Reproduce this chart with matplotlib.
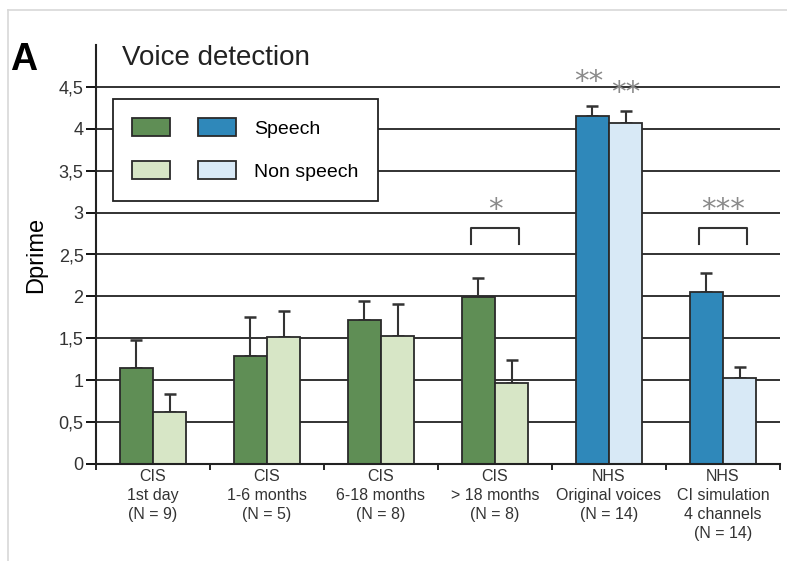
import numpy as np
import matplotlib.pyplot as plt
from matplotlib.patches import Patch

plt.rcParams['font.family'] = ['Liberation Sans', 'DejaVu Sans']

groups = ['CIS\n1st day\n(N = 9)', 'CIS\n1-6 months\n(N = 5)', 'CIS\n6-18 months\n(N = 8)',
          'CIS\n> 18 months\n(N = 8)', 'NHS\nOriginal voices\n(N = 14)',
          'NHS\nCI simulation\n4 channels\n(N = 14)']
speech = [1.14, 1.29, 1.72, 1.99, 4.15, 2.05]
speech_err = [0.34, 0.46, 0.22, 0.23, 0.12, 0.23]
nonspeech = [0.62, 1.52, 1.53, 0.97, 4.07, 1.03]
nonspeech_err = [0.22, 0.30, 0.38, 0.27, 0.14, 0.13]
is_nhs = [False, False, False, False, True, True]

# significance marks: (group, label, y, bracket)
sig = [(3, '*', 2.86, True), (5, '***', 2.86, True)]
sig_nhs = [('**', 4.39, -1), ('**', 4.26, 1)]

c_dark_green = '#5f8e55'
c_light_green = '#d7e6c6'
c_blue = '#2f88ba'
c_light_blue = '#d8e9f6'
edge = '#2a2a2a'

fig = plt.figure(figsize=(7.87, 5.61), dpi=100)
ax = fig.add_axes([96/787, 97/561, 684/787, 419/561])

x = np.arange(len(groups))
w = 0.29
col1 = [c_blue if n else c_dark_green for n in is_nhs]
col2 = [c_light_blue if n else c_light_green for n in is_nhs]

for yv in np.arange(0.5, 4.51, 0.5):
    ax.axhline(yv, color='#222222', lw=1.3, zorder=0)

ax.bar(x - w/2, speech, w, color=col1, edgecolor=edge, lw=1.3, zorder=2)
ax.bar(x + w/2, nonspeech, w, color=col2, edgecolor=edge, lw=1.3, zorder=2)
ax.errorbar(x - w/2, speech, yerr=[np.zeros(6), speech_err], fmt='none',
            ecolor='#333333', elinewidth=1.5, capsize=4.5, capthick=1.8, zorder=1)
ax.errorbar(x + w/2, nonspeech, yerr=[np.zeros(6), nonspeech_err], fmt='none',
            ecolor='#333333', elinewidth=1.5, capsize=4.5, capthick=1.8, zorder=1)

for g, lab, yv, br in sig:
    if br:
        ax.plot([g - w*0.72, g - w*0.72, g + w*0.72, g + w*0.72],
                [2.62, 2.82, 2.82, 2.62], color='#333333', lw=1.5)
    ax.text(g, yv, lab, ha='center', va='bottom', fontsize=21, color='#8a8a8a',
            family='DejaVu Sans')
for lab, yv, side in sig_nhs:
    ax.text(4 + side*w/2 - (0.03 if side < 0 else 0), yv, lab, ha='center', va='bottom',
            fontsize=21, color='#8a8a8a', family='DejaVu Sans')

ax.set_xlim(-0.5, 5.5)
ax.set_ylim(0, 5.0)
ax.set_yticks(np.arange(0, 4.51, 0.5))
ax.set_yticklabels(['0', '0,5', '1', '1,5', '2', '2,5', '3', '3,5', '4', '4,5'],
                   fontsize=13, color='#333333')
ax.set_xticks(x)
ax.set_xticklabels(groups, fontsize=11.5, color='#333333', va='top', linespacing=1.33)
ax.tick_params(axis='x', length=0, pad=3.5)
ax.set_xticks(np.arange(-0.5, 5.6, 1.0), minor=True)
ax.tick_params(axis='x', which='minor', length=4, width=1.2, direction='out')
ax.tick_params(axis='y', length=7, width=1.3, direction='out', pad=2)
for s in ['top', 'right']:
    ax.spines[s].set_visible(False)
for s in ['left', 'bottom']:
    ax.spines[s].set_linewidth(1.5)
    ax.spines[s].set_color('#222222')

ax.set_ylabel('Dprime', fontsize=17, labelpad=8)

handles = [Patch(facecolor=c_dark_green, edgecolor=edge, lw=1.3),
           Patch(facecolor=c_light_green, edgecolor=edge, lw=1.3),
           Patch(facecolor=c_blue, edgecolor=edge, lw=1.3),
           Patch(facecolor=c_light_blue, edgecolor=edge, lw=1.3)]
leg = ax.legend(handles, ['', '', 'Speech', 'Non speech'], ncol=2, loc='upper left',
                bbox_to_anchor=(17/684, 1 - 54/419), fontsize=14, frameon=True,
                fancybox=False, edgecolor='#222222', framealpha=1,
                handlelength=1.95, handleheight=1.05, handletextpad=0.95,
                columnspacing=0.45, labelspacing=1.2, borderpad=1.0,
                borderaxespad=0)
leg.get_frame().set_linewidth(1.3)
leg.set_zorder(5)

fig.text(122/787, 1 - 58/561, 'Voice detection', fontsize=20, va='center', ha='left',
         color='#222222')
fig.text(10/787, 1 - 60/561, 'A', fontsize=27, fontweight='bold', va='center', ha='left')

fig.add_artist(plt.Line2D([8/787, 1], [1 - 10/561, 1 - 10/561], color='#d8d8d8', lw=1.2))
fig.add_artist(plt.Line2D([8/787, 8/787], [0, 1 - 10/561], color='#d8d8d8', lw=1.2))

fig.savefig('out.png', dpi=100)
